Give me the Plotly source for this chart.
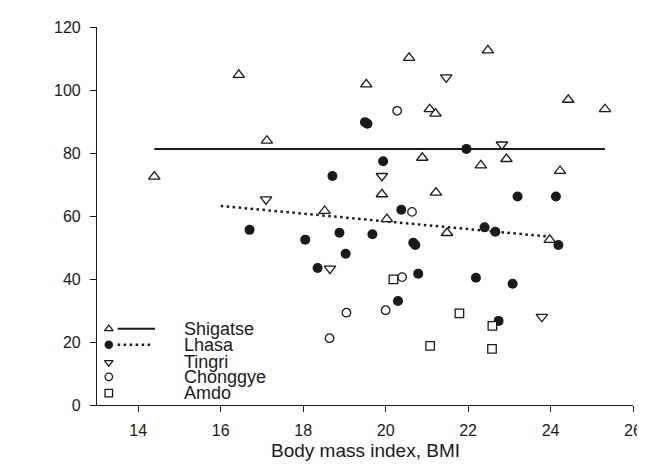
import plotly.graph_objects as go

# ---- data ----
shigatse_bmi = [14.39, 16.44, 17.12, 18.52, 19.53, 19.91, 20.03, 20.57, 20.89, 21.07,
                21.21, 21.22, 21.49, 22.31, 22.48, 22.93, 23.98, 24.23, 24.43, 25.32]
shigatse_vd = [72.5, 104.8, 83.9, 61.6, 101.8, 66.9, 59.0, 110.2, 78.5, 93.9,
               92.5, 67.4, 54.6, 76.1, 112.6, 78.1, 52.4, 74.3, 96.9, 93.9]

lhasa_bmi = [16.70, 18.05, 18.35, 18.71, 18.88, 19.03, 19.50, 19.56, 19.68, 19.94,
             20.30, 20.38, 20.67, 20.72, 20.79, 21.96, 22.19, 22.40, 22.66, 22.74,
             23.08, 23.20, 24.13, 24.19]
lhasa_vd = [55.6, 52.5, 43.5, 72.7, 54.7, 48.0, 89.8, 89.3, 54.2, 77.4,
            33.0, 62.0, 51.5, 50.8, 41.7, 81.3, 40.4, 56.4, 55.0, 26.7,
            38.5, 66.2, 66.2, 50.8]

tingri_bmi = [17.10, 18.65, 19.91, 21.47, 22.82, 23.79]
tingri_vd = [65.3, 43.3, 72.7, 104.0, 82.7, 28.0]

chonggye_bmi = [18.64, 19.05, 20.00, 20.28, 20.40, 20.64]
chonggye_vd = [21.2, 29.3, 30.1, 93.4, 40.6, 61.3]

amdo_bmi = [20.19, 21.08, 21.79, 22.58, 22.59]
amdo_vd = [39.9, 18.8, 29.1, 17.8, 25.1]

# regression lines (endpoints)
shigatse_fit_x = [14.39, 25.32]
shigatse_fit_y = [81.3, 81.3]
lhasa_fit_x = [16.0, 24.0]
lhasa_fit_y = [63.2, 53.4]

x_ticks = [14, 16, 18, 20, 22, 24, 26]
y_ticks = [0, 20, 40, 60, 80, 100, 120]
groups = ["Shigatse", "Lhasa", "Tingri", "Chonggye", "Amdo"]

FONT = "Liberation Sans, Arial, Helvetica, sans-serif"
INK = "#1a1a1a"

fig = go.Figure()

open_marker = dict(color="white", line=dict(color=INK, width=1.3))
filled_marker = dict(color=INK, line=dict(color=INK, width=0))

fig.add_trace(go.Scatter(x=shigatse_fit_x, y=shigatse_fit_y, mode="lines",
                         line=dict(color=INK, width=2), showlegend=False))
fig.add_trace(go.Scatter(x=lhasa_fit_x, y=lhasa_fit_y, mode="lines",
                         line=dict(color=INK, width=2.5, dash="2.5px,3.5px"), showlegend=False))

series = [
    (shigatse_bmi, shigatse_vd, "triangle-up", 10, 7.5, open_marker),
    (lhasa_bmi, lhasa_vd, "circle", 10, 8.5, filled_marker),
    (tingri_bmi, tingri_vd, "triangle-down", 10, 7.5, open_marker),
    (chonggye_bmi, chonggye_vd, "circle", 8.5, 7.5, open_marker),
    (amdo_bmi, amdo_vd, "square", 8.5, 7.5, open_marker),
]
for (xs, ys, sym, sz, lsz, mk), name in zip(series, groups):
    m = dict(symbol=sym, size=sz, **mk)
    fig.add_trace(go.Scatter(x=xs, y=ys, mode="markers", marker=m, name=name,
                             showlegend=False, cliponaxis=False))

# ---- custom legend on a pixel-space overlay axis ----
leg_rows = [320, 336, 354, 368.5, 385]
sym_x = 101
for (xs, ys, sym, sz, lsz, mk), name, ry in zip(series, groups, leg_rows):
    m = dict(symbol=sym, size=lsz, **mk)
    fig.add_trace(go.Scatter(x=[sym_x], y=[ry], xaxis="x2", yaxis="y2", mode="markers",
                             marker=m, showlegend=False, cliponaxis=False, hoverinfo="skip"))
    fig.add_annotation(x=176, y=ry, xref="x2", yref="y2", text=name, showarrow=False,
                       xanchor="left", yanchor="middle", borderpad=0,
                       font=dict(family=FONT, size=18, color=INK))
fig.add_trace(go.Scatter(x=[110, 148], y=[leg_rows[0]] * 2, xaxis="x2", yaxis="y2",
                         mode="lines", line=dict(color=INK, width=2), showlegend=False,
                         hoverinfo="skip"))
fig.add_trace(go.Scatter(x=[110, 146], y=[leg_rows[1]] * 2, xaxis="x2", yaxis="y2",
                         mode="lines", line=dict(color=INK, width=2.5, dash="2.5px,3.5px"),
                         showlegend=False, hoverinfo="skip"))

axis_common = dict(showgrid=False, zeroline=False, showline=True, linecolor=INK,
                   linewidth=1.2, ticks="outside", ticklen=6, tickwidth=1.2,
                   tickcolor=INK, tickfont=dict(family=FONT, size=16, color=INK))

fig.update_layout(
    width=645, height=469,
    margin=dict(l=89, r=11, t=15, b=72),
    paper_bgcolor="white", plot_bgcolor="white",
    showlegend=False,
    xaxis=dict(range=[13, 26], tickvals=x_ticks, ticklabelstandoff=5, **axis_common),
    yaxis=dict(range=[0, 120], tickvals=y_ticks, ticklabelstandoff=6, **axis_common),
    xaxis2=dict(range=[89, 634], overlaying="x", visible=False, fixedrange=True),
    yaxis2=dict(range=[397, 15], overlaying="y", visible=False, fixedrange=True),
)

fig.add_annotation(x=0.5, y=-0.12, xref="paper", yref="paper", yanchor="middle",
                   xanchor="center", text="Body mass index, BMI", showarrow=False,
                   font=dict(family=FONT, size=19, color=INK))
fig.add_annotation(x=25, y=166, xref="x2", yref="y2", text="25(OH)D (nM)",
                   showarrow=False, textangle=-90, xanchor="center", yanchor="middle",
                   font=dict(family=FONT, size=19, color=INK))

fig.write_html("out.html")
